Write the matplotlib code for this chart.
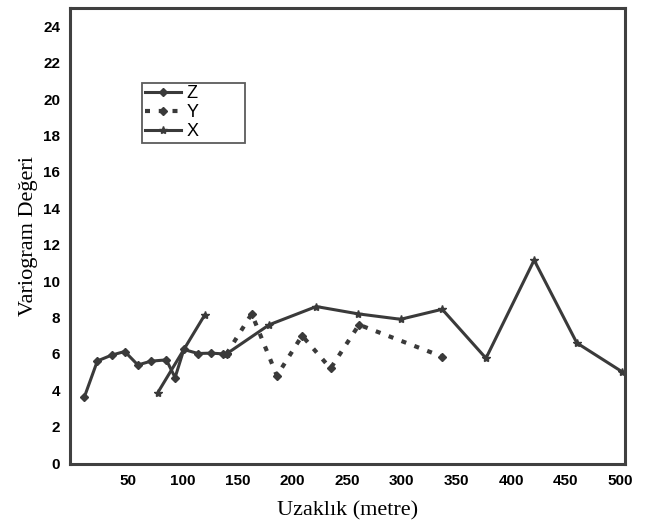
import numpy as np
import matplotlib
matplotlib.use('Agg')
import matplotlib.pyplot as plt

plt.rcParams['font.family'] = ['Liberation Sans', 'DejaVu Sans']

# Z yonu
z_lag = [10, 22, 35, 47, 59, 71, 85, 93, 101, 114, 126, 137]
z_val = [3.61, 5.61, 5.93, 6.13, 5.39, 5.6, 5.67, 4.7, 6.24, 6.02, 6.04, 6.0]
# Y yonu
y_lag = [140, 163, 186, 209, 235, 261, 337]
y_val = [6.0, 8.2, 4.8, 7.0, 5.2, 7.6, 5.85]
# X yonu (ilk parca ayri)
x_lag = [77, 120, np.nan, 140, 179, 222, 260, 299, 337, 377, 421, 460, 501]
x_val = [3.85, 8.13, np.nan, 6.0, 7.6, 8.6, 8.2, 7.9, 8.45, 5.76, 11.15, 6.6, 5.03]

xticks = [50, 100, 150, 200, 250, 300, 350, 400, 450, 500]
yticks = list(range(0, 25, 2))

col = '#3a3a3a'
fig = plt.figure(figsize=(6.45, 5.21), dpi=100)
ax = fig.add_axes([70 / 645, 57 / 521, 555 / 645, 456 / 521])

ax.plot(z_lag, z_val, '-', color=col, lw=2.2, marker='D', ms=4.5, label='Z')
ax.plot(y_lag, y_val, color=col, lw=3.0, ls=(0, (1.2, 2.1)), dash_capstyle='butt',
        marker='D', ms=4.5, label='Y')
ax.plot(x_lag, x_val, '-', color=col, lw=2.2, marker='*', ms=6, label='X')

ax.set_xlim(-3, 504)
ax.set_ylim(-0.05, 25)
ax.set_xticks(xticks)
ax.set_yticks(yticks)
ax.tick_params(length=0, pad=7, labelsize=11)
for t in ax.get_xticklabels() + ax.get_yticklabels():
    t.set_fontweight('bold')
for s in ax.spines.values():
    s.set_linewidth(2.2)
    s.set_color('#404040')

ax.set_xlabel('Uzaklık (metre)', family=['Liberation Serif', 'DejaVu Serif'], size=16, labelpad=10)
ax.set_ylabel('Variogram Değeri', family=['Liberation Serif', 'DejaVu Serif'], size=16, labelpad=4)

leg = ax.legend(loc='upper left', bbox_to_anchor=(0.130, 0.704, 0.185, 0.132), mode='expand',
                fontsize=13, frameon=True, fancybox=False, borderpad=0.15, labelspacing=0.1,
                handlelength=2.0, handletextpad=0.3, borderaxespad=0)
leg.get_frame().set_edgecolor('#333333')
leg.get_frame().set_linewidth(1.3)

plt.savefig('out.png', dpi=100)
